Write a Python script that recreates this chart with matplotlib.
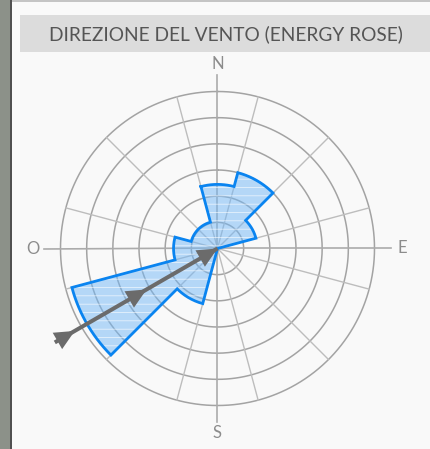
import numpy as np
import matplotlib
matplotlib.use("Agg")
import matplotlib.pyplot as plt
from matplotlib.patches import Rectangle

# energy rose: one 30-degree sector per direction, values in ring units
TITLE = "DIREZIONE DEL VENTO (ENERGY ROSE)"
directions = [0, 30, 60, 90, 120, 150, 180, 210, 240, 270, 300, 330]
energy = [2.45, 3.0, 1.52, 0, 0, 0, 0, 2.18, 5.76, 1.68, 1.04, 1.04]
rings = [1, 2, 3, 4, 5, 6]
cardinal_dirs = [0, 90, 180, 270]
cardinal_labels = ["N", "E", "S", "O"]
mean_dir = 240
SECTOR = 30

W, H = 431, 449
plt.rcParams["hatch.linewidth"] = 0.5
fig = plt.figure(figsize=(W / 100, H / 100), dpi=100)
fig.patch.set_facecolor("#f9f9f9")


def frac(x0, y0, w, h):
    return (x0 / W, 1 - (y0 + h) / H), w / W, h / H


# page decoration: photo strip, border, title bar
for (x0, y0, w, h), col in [((0, 0, 10, H), "#8c9189"), ((10, 0, 2, H), "#505050"),
                            ((12, 0, W - 12, 2), "#c4c4c4"), ((20, 15, W - 20, 37), "#dcdcdc")]:
    xy, fw, fh = frac(x0, y0, w, h)
    fig.patches.append(Rectangle(xy, fw, fh, transform=fig.transFigure,
                                 facecolor=col, edgecolor="none", zorder=0))
fig.text(226 / W, 1 - 34 / H, TITLE, ha="center", va="center",
         fontsize=13.8, color="#555555", family="Lato")

# polar axes: centre (217.5, 248.5) px, 157 px for r = 6
RMAX = 7.2
cx, cy, rpx = 217.5, 248.5, 157 * RMAX / 6
ax = fig.add_axes([(cx - rpx) / W, (H - cy - rpx) / H, 2 * rpx / W, 2 * rpx / H],
                  projection="polar")
ax.set_theta_zero_location("N")
ax.set_theta_direction(-1)
ax.set_ylim(0, RMAX)
ax.set_axis_off()

full = np.linspace(0, 2 * np.pi, 361)
for r in rings:
    ax.plot(full, np.full_like(full, r), color="#a3a3a3", lw=1.1, zorder=1)
for d in np.arange(SECTOR / 2, 360, SECTOR):
    ax.plot([np.radians(d)] * 2, [0, rings[-1]], color="#bdbdbd", lw=1.0, zorder=1)
for d, lab in zip(cardinal_dirs, cardinal_labels):
    t = np.radians(d)
    ax.plot([t, t], [0, 6.62], color="#ababab", lw=1.2, zorder=1)
    ax.text(t, 7.07, lab, ha="center", va="center", fontsize=12,
            color="#8c8c8c", family="Lato")

# outline of the rose as one step path
th, rr = [], []
for d, e in zip(directions, energy):
    a = np.radians(np.linspace(d - SECTOR / 2, d + SECTOR / 2, 31))
    th.extend(a)
    rr.extend([e] * len(a))
th.append(th[0])
rr.append(rr[0])
ax.fill(th, rr, facecolor=(113 / 255, 183 / 255, 247 / 255, 0.5),
        edgecolor=(1, 1, 1, 0.8), lw=0, hatch="--", zorder=2)
ax.plot(th, rr, color="#0a84f0", lw=2.0, zorder=3, solid_joinstyle="miter")

# mean direction arrow
t = np.radians(mean_dir)
grey = "#6b6b6b"
ax.plot([t, t], [0, 7.18], color=grey, lw=2.9, solid_capstyle="butt", zorder=4)
for tip in (0.0, 3.13, 6.3):
    ax.annotate("", xy=(t, tip), xytext=(t, tip + 1.2),
                arrowprops=dict(arrowstyle="-|>,head_length=14.4,head_width=6.8",
                                mutation_scale=1, color=grey, lw=0,
                                shrinkA=0, shrinkB=0), zorder=5)

fig.savefig("out.png", dpi=100, facecolor=fig.get_facecolor())
